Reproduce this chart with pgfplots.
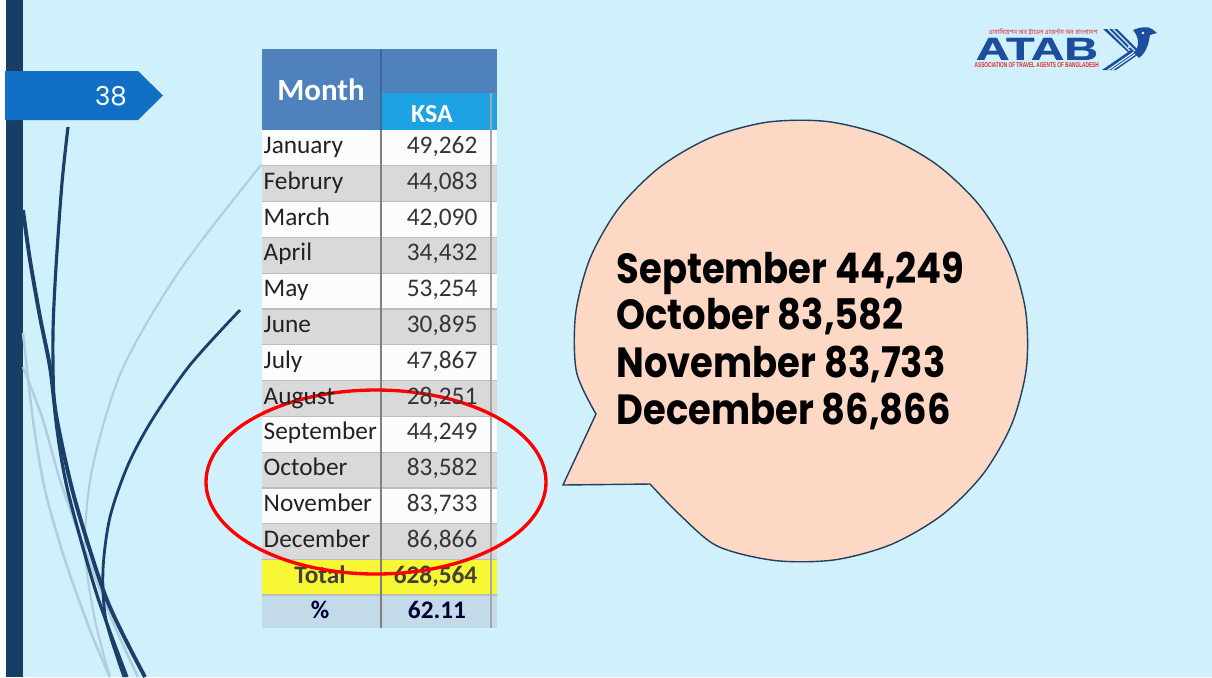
\documentclass[border=0pt]{standalone}
\usepackage{pgfplots}
\pgfplotsset{compat=1.18}
\usepackage{pgfplotstable}
\usepackage{graphicx}
\usepackage{fontspec}
\setmainfont{Carlito}
\newfontfamily\bubblefont{Poppins}
\newfontfamily\logofont{Liberation Sans}
\newfontfamily\bnfont[Script=Bengali]{Hind Siliguri}

\definecolor{bg}{HTML}{D0F1FC}
\definecolor{darkbar}{HTML}{173F66}
\definecolor{tabblue}{HTML}{1170C6}
\definecolor{lightcurve}{HTML}{B2CDDE}
\definecolor{darkcurve}{HTML}{1B3F68}
\definecolor{hdr}{HTML}{4F81BD}
\definecolor{ksa}{HTML}{1DA2E3}
\definecolor{rowgray}{HTML}{D9D9D9}
\definecolor{rowwhite}{HTML}{FCFCFC}
\definecolor{gridline}{HTML}{BDBDBD}
\definecolor{totalyellow}{HTML}{F7F733}
\definecolor{pctblue}{HTML}{C3DBE9}
\definecolor{bubblefill}{HTML}{FDD8C5}
\definecolor{bubbleline}{HTML}{23405E}
\definecolor{atab}{HTML}{1D4E9E}
\definecolor{atabred}{HTML}{E3262B}
\definecolor{monthtext}{HTML}{222222}
\definecolor{numtext}{HTML}{353535}

\pgfplotstableread{
row month ksa
1 January 49262
2 Februry 44083
3 March 42090
4 April 34432
5 May 53254
6 June 30895
7 July 47867
8 August 28251
9 September 44249
10 October 83582
11 November 83733
12 December 86866
}\ksadata

\begin{document}
\begin{tikzpicture}
\begin{axis}[
  hide axis, scale only axis,
  width=12.12cm, height=6.77cm,
  xmin=0, xmax=1212, ymin=0, ymax=677, y dir=reverse,
]
% ---------- background ----------
\fill[bg] (0,0) rectangle (1212,677);
\fill[white] (0,0) rectangle (6,677);
\fill[darkbar] (6,0) rectangle (23,677);

% ---------- decorative curves ----------
\draw[lightcurve, line width=0.6pt] plot[smooth] coordinates {(261,165) (180,270) (122,370) (92,470) (85,550) (95,620) (110,677)};
\draw[lightcurve, line width=0.7pt] plot[smooth] coordinates {(23,333) (33,420) (45,490) (65,560) (90,630) (110,677)};
\draw[lightcurve, line width=0.7pt] plot[smooth] coordinates {(23,367) (43,420) (60,480) (85,550) (112,620) (138,677)};
\draw[darkcurve, line width=0.8pt] plot[smooth] coordinates {(240,310) (190,365) (152,420) (128,465) (110,517) (103,570) (106,620) (124,677)};
\draw[darkcurve, line width=0.9pt] plot[smooth] coordinates {(68,127) (62,183) (56,267) (53,333) (54,400) (60,450) (70,500) (97,595) (127,677)};
\draw[darkcurve, line width=1.1pt] plot[smooth] coordinates {(23,210) (30,260) (40,317) (50,367) (57,420) (75,500) (107,600) (145,677)};

% ---------- page tab ----------
\fill[tabblue] (5,71) -- (138,71) -- (163,95.5) -- (138,120) -- (5,120) -- cycle;
\node[text=white, font=\bubblefont\fontsize{7.4}{8}\selectfont, inner sep=0pt] at (111,96.5) {38};

% ---------- table backgrounds ----------
\fill[hdr] (262,49) rectangle (497,130);
\fill[ksa] (381,93) rectangle (497,130);
\pgfplotsinvokeforeach{1,3,5,7,9,11}{
  \fill[rowwhite] (262,{130+(#1-1)*35.8}) rectangle (497,{130+#1*35.8});
}
\pgfplotsinvokeforeach{2,4,6,8,10,12}{
  \fill[rowgray] (262,{130+(#1-1)*35.8}) rectangle (497,{130+#1*35.8});
}
\fill[totalyellow] (262,559.6) rectangle (497,595);
\fill[pctblue] (262,595) rectangle (497,628);
\pgfplotsinvokeforeach{1,...,12}{
  \draw[gridline, line width=0.3pt] (262,{130+#1*35.8}) -- (497,{130+#1*35.8});
}
\draw[gridline, line width=0.3pt] (262,595) -- (497,595);
\draw[hdr!80!black, line width=0.3pt] (381,49) -- (381,130);
\draw[gray, line width=0.4pt] (381,130) -- (381,628);
\draw[gray!70, line width=0.4pt] (491,93) -- (491,628);

% header text
\node[text=white, font=\bfseries\fontsize{8.8}{10}\selectfont, inner sep=0pt] at (321,90) {Month};
\node[text=white, font=\bfseries\fontsize{7.4}{9}\selectfont, inner sep=0pt] at (432,114) {KSA};

% ---------- table data ----------
\addplot[draw=none, mark=none, nodes near coords, point meta=explicit symbolic,
  nodes near coords style={anchor=base west, inner sep=0pt, text=monthtext,
    font=\fontsize{7.2}{8}\selectfont}]
  table[x expr=263, y expr={130+(\thisrow{row}-0.5)*35.8+5.5}, meta=month] {\ksadata};
\addplot[draw=none, mark=none, point meta=explicit,
  nodes near coords={\pgfmathprintnumber[fixed, precision=0, 1000 sep={,}, assume math mode=true]{\pgfplotspointmeta}},
  nodes near coords style={anchor=base east, inner sep=0pt, text=numtext,
    font=\fontsize{7.2}{8}\selectfont}]
  table[x expr=478, y expr={130+(\thisrow{row}-0.5)*35.8+5.5}, meta=ksa] {\ksadata};

\node[anchor=base, inner sep=0pt, text=black!85!yellow, font=\bfseries\fontsize{7.2}{8}\selectfont] at (320,583) {Total};
\node[anchor=base east, inner sep=0pt, text=black!85!yellow, font=\bfseries\fontsize{7.2}{8}\selectfont] at (478,583) {628,564};
\node[anchor=base, inner sep=0pt, text=black!80!blue, font=\bfseries\fontsize{7.2}{8}\selectfont] at (320,618) {\%};
\node[anchor=base, inner sep=0pt, text=black!80!blue, font=\bfseries\fontsize{7.2}{8}\selectfont] at (437,618) {62.11};

% ---------- red ellipse ----------
\draw[red, line width=0.95pt] (376,482) ellipse [x radius=170, y radius=92];

% ---------- speech bubble ----------
\filldraw[fill=bubblefill, draw=bubbleline, line width=0.4pt]
  plot[smooth] coordinates {(596,414) (576.5,371.9) (575.6,314.2) (590.1,258.3) (618.9,208) (660.1,166.9) (710.9,137.5) (767.8,122.1) (827.1,121.5) (884.6,135.9) (936.3,164.3) (978.9,204.7) (1009.3,254.4) (1025.5,310.1) (1026.4,367.8) (1011.9,423.7) (983.1,474.0) (941.9,515.1) (891.1,544.5) (834.2,559.9) (774.9,560.5) (717.4,546.1) (679,514) (650,484)}
  -- (563,485) -- cycle;
\begin{scope}[font=\bubblefont\bfseries\fontsize{12}{14}\selectfont]
\node[anchor=base west, inner sep=0pt, xscale=0.875] at (616,283) {September 44,249};
\node[anchor=base west, inner sep=0pt, xscale=0.875] at (616,329) {October 83,582};
\node[anchor=base west, inner sep=0pt, xscale=0.875] at (616,377) {November 83,733};
\node[anchor=base west, inner sep=0pt, xscale=0.875] at (616,424) {December 86,866};
\end{scope}

% ---------- logo ----------
\node[anchor=base west, inner sep=0pt, text=atab] at (975,60) {\resizebox{34.7pt}{6.3pt}{\logofont\bfseries ATAB}};
\node[anchor=base west, inner sep=0pt, text=atab] at (975.8,60) {\resizebox{34.7pt}{6.3pt}{\logofont\bfseries ATAB}};
\node[anchor=base west, inner sep=0pt, text=atabred] at (974,67) {\resizebox{35.3pt}{1.4pt}{\logofont\bfseries ASSOCIATION OF TRAVEL AGENTS OF BANGLADESH}};
\node[anchor=base west, inner sep=0pt, text=atabred] at (988,34) {\resizebox{31pt}{1.6pt}{\bnfont এসোসিয়েশন অব ট্রাভেল এজেন্টস অব বাংলাদেশ}};
% bird
\fill[atab] (1103,29) -- (1117,29) -- (1139,51) -- (1131,55) -- cycle;
\draw[bg, line width=0.35pt] (1108,29) -- (1131,52);
\draw[bg, line width=0.35pt] (1113,29) -- (1135,51);
\fill[atab] (1131,50) -- (1139,54) -- (1116,70) -- (1102,70) -- cycle;
\draw[bg, line width=0.35pt] (1108,70) -- (1134,52);
\draw[bg, line width=0.35pt] (1112,70) -- (1136,53.5);
\fill[atab] (1133,30) .. controls (1140,27) and (1148,26) .. (1152,29) -- (1157,33) -- (1150,35) .. controls (1149,42) and (1147,52) .. (1139,58) -- (1134,53) .. controls (1140,46) and (1139,37) .. (1133,30) -- cycle;
\fill[white] (1143,33) circle[radius=1.4];
\fill[white] (1129,47) circle[radius=1.2];
\end{axis}
\end{tikzpicture}
\end{document}
